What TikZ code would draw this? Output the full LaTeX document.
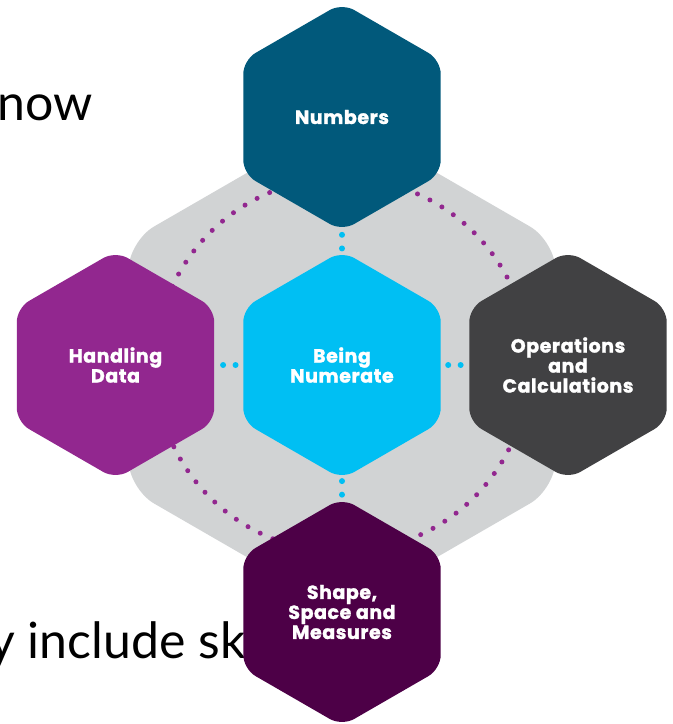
\documentclass[tikz,border=0pt]{standalone}
\usepackage{fontspec}
\newfontfamily\hexfont{Poppins}[LetterSpace=3, BoldFeatures={FakeBold=1.5}]
\newfontfamily\slidefont{Lato}
\usetikzlibrary{shapes.geometric,calc}
\definecolor{numcol}{HTML}{01597B}
\definecolor{corecol}{HTML}{00BFF3}
\definecolor{datacol}{HTML}{92278F}
\definecolor{opscol}{HTML}{414143}
\definecolor{shapecol}{HTML}{4D0047}
\definecolor{bgcol}{HTML}{D1D3D4}
\begin{document}
\begin{tikzpicture}[x=1pt,y=-1pt,
  hexbox/.style={regular polygon, regular polygon sides=6, regular polygon rotate=30,
    minimum size=228pt, inner sep=0pt, rounded corners=14pt, text=white, align=center,
    font=\hexfont\bfseries\fontsize{19}{20}\selectfont},
  bghex/.style={regular polygon, regular polygon sides=6, regular polygon rotate=30,
    minimum size=494pt, inner sep=0pt, rounded corners=30pt, fill=bgcol},
  slidetext/.style={anchor=base west, inner sep=0pt, font=\slidefont\fontsize{50}{56}\selectfont},
  purpledot/.style={fill=datacol},
  bluedot/.style={fill=corecol}]
\useasboundingbox (0,0) rectangle (673,724);
\node[slidetext] (t1) at (-3,120) {now};
\node[slidetext] (t2) at (-11,658) {y include sk};
\node[bghex] (bg) at (342,365) {};
\coordinate (c) at (342,365);
\foreach \i in {0,...,84} {
  \fill[purpledot] ($(c)+({111.7+\i*4.23529}:187)$) circle (2.5pt);
}
\coordinate (pnum) at (342,117);
\coordinate (pcore) at (342,365);
\coordinate (pdata) at (115.5,365);
\coordinate (pops) at (568,365);
\coordinate (pshape) at (342,612);
\foreach \p in {0.475,0.53} {
  \fill[bluedot] ($(pnum)!\p!(pcore)$) circle (3pt);
  \fill[bluedot] ($(pcore)!1-\p!(pshape)$) circle (3pt);
  \fill[bluedot] ($(pdata)!\p!(pcore)$) circle (3pt);
  \fill[bluedot] ($(pcore)!1-\p!(pops)$) circle (3pt);
}
\node[hexbox, fill=numcol] (num) at (pnum) {Numbers};
\node[hexbox, fill=corecol] (core) at (pcore) {Being\\Numerate};
\node[hexbox, fill=datacol] (data) at (pdata) {Handling\\Data};
\node[hexbox, fill=opscol] (ops) at (pops) {Operations\\and\\Calculations};
\node[hexbox, fill=shapecol] (shape) at (pshape) {Shape,\\Space and\\Measures};
\end{tikzpicture}
\end{document}
